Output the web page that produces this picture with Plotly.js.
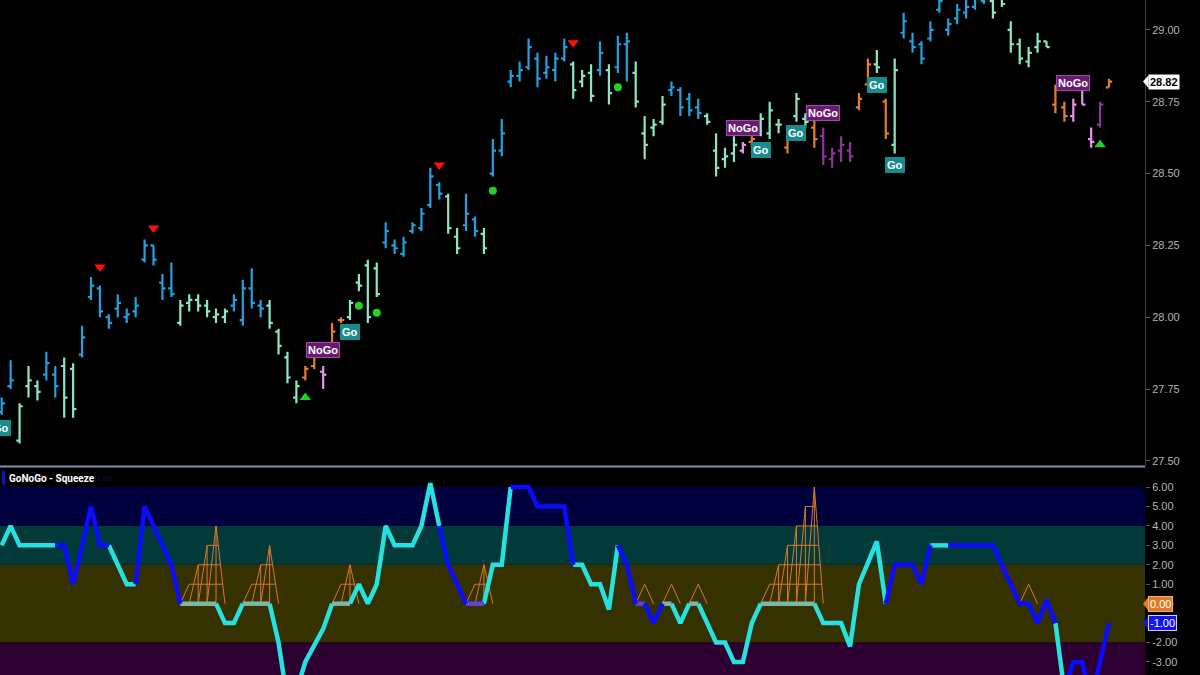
<!DOCTYPE html>
<html><head><meta charset="utf-8">
<script src="https://cdn.plot.ly/plotly-3.0.1.min.js"></script>
<style>html,body{margin:0;padding:0;background:#000;overflow:hidden}#chart{width:1200px;height:675px}</style>
</head><body><div id="chart"></div>
<script>
// ---- price bars (OHLC) ----
const barOpen = [27.67,27.76,27.57,27.76,27.76,27.80,27.80,27.83,27.82,27.87,
28.07,28.10,28.00,28.03,28.00,28.02,28.20,28.25,28.12,28.10,
27.98,28.05,28.06,28.04,28.00,28.00,28.04,27.99,28.10,28.04,
28.04,27.95,27.86,27.72,27.79,27.83,27.81,27.87,27.99,28.00,
28.12,28.18,28.17,28.26,28.25,28.22,28.30,28.31,28.39,28.46,
28.42,28.28,28.32,28.34,28.29,28.50,28.58,28.82,28.84,28.87,
28.90,28.85,28.86,28.90,28.88,28.82,28.85,28.86,28.86,28.87,
28.95,28.85,28.64,28.66,28.68,28.79,28.79,28.76,28.73,28.70,
28.58,28.55,28.57,28.58,28.61,28.65,28.64,28.67,28.59,28.70,
28.69,28.66,28.63,28.55,28.58,28.58,28.73,28.81,28.88,28.75,
28.60,28.99,28.96,28.95,28.97,29.07,29.00,29.04,29.06,29.08,
29.10,29.10,29.11,29.00,28.95,28.89,28.94,28.96,28.74,28.73,
28.70,28.80,28.62,28.67,28.80];
const barHigh = [27.72,27.85,27.70,27.83,27.78,27.88,27.83,27.86,27.84,27.97,
28.14,28.11,28.01,28.08,28.03,28.07,28.27,28.25,28.15,28.19,
28.06,28.08,28.08,28.06,28.03,28.03,28.08,28.13,28.17,28.06,
28.06,27.96,27.88,27.78,27.83,27.91,27.83,27.98,28.00,28.06,
28.15,28.20,28.19,28.33,28.27,28.28,28.33,28.38,28.52,28.47,
28.43,28.31,28.43,28.35,28.31,28.62,28.69,28.86,28.89,28.97,
28.92,28.91,28.92,28.97,28.89,28.86,28.88,28.96,28.88,28.98,
28.99,28.89,28.70,28.69,28.77,28.82,28.80,28.78,28.76,28.71,
28.64,28.59,28.63,28.61,28.63,28.71,28.75,28.69,28.64,28.78,
28.71,28.69,28.66,28.59,28.63,28.61,28.78,28.90,28.93,28.76,
28.90,29.06,28.99,28.96,29.03,29.12,29.04,29.09,29.11,29.13,
29.14,29.12,29.13,29.03,28.97,28.94,28.99,28.96,28.81,28.75,
28.76,28.80,28.66,28.75,28.83];
const barLow = [27.66,27.75,27.56,27.72,27.71,27.78,27.72,27.65,27.65,27.86,
28.06,28.00,27.96,28.00,27.98,28.00,28.19,28.18,28.06,28.07,
27.97,28.02,28.02,28.00,27.98,27.98,28.02,27.97,28.03,28.00,
27.96,27.87,27.77,27.70,27.78,27.82,27.75,27.86,27.98,27.99,
28.09,27.98,28.07,28.24,28.22,28.21,28.29,28.30,28.38,28.41,
28.29,28.22,28.30,28.28,28.22,28.49,28.56,28.80,28.82,28.86,
28.80,28.83,28.82,28.89,28.76,28.80,28.75,28.84,28.74,28.85,
28.82,28.73,28.55,28.63,28.67,28.77,28.70,28.70,28.69,28.67,
28.49,28.52,28.54,28.57,28.59,28.63,28.62,28.64,28.57,28.68,
28.66,28.59,28.53,28.52,28.54,28.54,28.72,28.80,28.85,28.62,
28.57,28.97,28.92,28.88,28.96,29.06,28.98,29.02,29.04,29.07,
29.09,29.04,29.08,28.92,28.88,28.87,28.92,28.94,28.71,28.68,
28.68,28.74,28.59,28.66,28.80];
const barClose = [27.70,27.78,27.69,27.78,27.74,27.84,27.76,27.72,27.68,27.93,
28.11,28.02,27.98,28.05,28.01,28.04,28.25,28.20,28.10,28.08,
28.04,28.06,28.04,28.02,28.01,28.02,28.06,28.10,28.05,28.03,
27.98,27.90,27.79,27.76,27.82,27.88,27.80,27.95,27.99,28.05,
28.11,28.00,28.08,28.30,28.24,28.26,28.32,28.36,28.49,28.43,
28.31,28.24,28.36,28.30,28.24,28.58,28.64,28.84,28.86,28.94,
28.83,28.87,28.90,28.94,28.79,28.84,28.77,28.92,28.78,28.95,
28.96,28.75,28.60,28.67,28.74,28.80,28.73,28.72,28.71,28.68,
28.52,28.56,28.60,28.60,28.62,28.69,28.72,28.67,28.63,28.76,
28.68,28.62,28.56,28.57,28.60,28.56,28.76,28.88,28.87,28.64,
28.86,29.03,28.94,28.90,29.00,29.10,29.02,29.07,29.08,29.11,
29.12,29.06,29.09,28.95,28.90,28.92,28.96,28.94,28.79,28.70,
28.74,28.74,28.61,28.74,28.82];
// trend code per bar: B strong go, G weak go, O weak nogo, P nogo (light), M strong nogo
const barTrend = ("BBGGGBBGGB"+"BBBBBBBBBB"+"GGGGGGBBBB"+"GGGGOOPOOG"+"GGGBBBBBBB"+
  "GGBBGBBBBB"+"BBBBGGGBGB"+"BGGGGBBBBG"+"GGGPOGGGOG"+"GOMMMMOOGO"+
  "GBBBBBBBBB"+"BGGGGGGGOO"+"PPPMO").split("");

// ---- signals on price panel ----
const sellIdx = [11,17,49,64];          const sellPrice = [28.175,28.31,28.53,28.955];
const buyIdx = [34,123];                 const buyPrice = [27.72,28.60];
const dotIdx = [40,42,55,69,100];        const dotPrice = [28.04,28.015,28.44,28.80,28.523];
const redDotIdx = [92];                  const redDotPrice = [28.718];
const goIdx = [0,39,85,89,98,100];       const goPrice = [27.614,27.948,28.582,28.641,28.808,28.530];
const noGoIdx = [36,83,92,120];          const noGoPrice = [27.886,28.659,28.711,28.815];
const lastPrice = 28.82;

// ---- oscillator ----
const oscValue = [3,4,3,3,3,3,3,3,1,3,
 5,3,3,2,1,1,5,4,3,2,
 0,0,0,0,0,-1,-1,0,0,0,
 0,-2,-5,-4.5,-3,-2.2,-1.3,0,0,0,
 1,0,1,4,3,3,3,4,6.2,4,
 2,1,0,0,0,2,2,6,6,6,
 5,5,5,5,2,2,1,1,-0.3,3,
 2,0,0,-1,0,0,-1,0,0,-1,
 -2,-2,-3,-3,-1,0,0,0,0,0,
 0,0,-1,-1,-1,-2.2,1,2.1,3.2,0,
 2,2,2,1,3,3,3,3,3,3,
 3,3,2,1,0,0,-1,0.2,-1,-4.5,
 -3,-3,-5,-3,-1];
const oscState = ("cccccccbbb"+"bbbcccbbbb"+"bggggcccgg"+"gcccccccgg"+"cccccccccc"+
  "bbbppcccbb"+"bbbbbccccc"+"bbpbbgccgc"+"ccccccgggg"+"ggcccccccc"+
  "bbbbbccbbb"+"bbbbbbbbbc"+"bbbbb").split("");
const squeeze = [0,0,0,0,0,0,0,0,0,0,
 0,0,0,0,0,0,0,0,0,0,
 0,1,2,3,4,0,0,0,1,2,
 3,0,0,0,0,0,0,0,1,2,
 0,0,0,0,0,0,0,0,0,0,
 0,0,0,1,2,0,0,0,0,0,
 0,0,0,0,0,0,0,0,0,0,
 0,0,1,0,0,1,0,0,1,0,
 0,0,0,0,0,0,1,2,3,4,
 5,6,0,0,0,0,0,0,0,0,
 0,0,0,0,0,0,0,0,0,0,
 0,0,0,0,0,1,0,0,0,0,
 0,0,0,0,0];
const priceTicks = [27.50,27.75,28.00,28.25,28.50,28.75,29.00];
const oscTicks = [-3,-2,-1,0,1,2,3,4,5,6];

// ================= build =================
const N = barOpen.length;
const FONT = "Liberation Sans, Arial, sans-serif";
const trendColors = {B:'#24a0dc', G:'#8ce6c6', O:'#e47c2e', P:'#e894ea', M:'#93309f'};
const traces = [];
for (const code of Object.keys(trendColors)) {
  const xs=[],o=[],h=[],l=[],c=[];
  for (let i=0;i<N;i++) if (barTrend[i]===code){xs.push(i);o.push(barOpen[i]);h.push(barHigh[i]);l.push(barLow[i]);c.push(barClose[i]);}
  const col = trendColors[code];
  traces.push({type:'ohlc', x:xs, open:o, high:h, low:l, close:c, xaxis:'x', yaxis:'y',
    increasing:{line:{color:col,width:2.2}}, decreasing:{line:{color:col,width:2.2}},
    tickwidth:0.36, hoverinfo:'skip', showlegend:false});
}
function mk(xs,ys,sym,col,size){return {type:'scatter',mode:'markers',x:xs,y:ys,xaxis:'x',yaxis:'y',
  marker:{symbol:sym,color:col,size:size,line:{width:0}},hoverinfo:'skip',showlegend:false};}
traces.push(mk(sellIdx,sellPrice,'triangle-down','#ff1010',10));
traces.push(mk(buyIdx,buyPrice,'triangle-up','#25d025',10));

// squeeze grid
const gx=[],gy=[];
function seg(x0,y0,x1,y1){gx.push(x0,x1,null);gy.push(y0,y1,null);}
for (let i=0;i<N;i++){
  if (squeeze[i]>0){
    const a=i; while(i+1<N && squeeze[i+1]>0) i++; const b=i; const top=squeeze[b];
    for (let j=a;j<=b;j++){ seg(j-1,0,j,squeeze[j]); if (squeeze[j]>=2) seg(j,0,j,squeeze[j]); }
    seg(b,top,b+1,0);
    for (let k=1;k<top;k++){ let s=a; while(squeeze[s]<k) s++; seg(s-1+k/squeeze[s],k,b+1-k/top,k); }
  }
}
traces.push({type:'scatter',mode:'lines',x:gx,y:gy,xaxis:'x',yaxis:'y2',line:{color:'#d9782c',width:1},hoverinfo:'skip',showlegend:false,connectgaps:false});

// oscillator coloured segments
const oscColors = {c:'#25e2e0', g:'#7db8a6', p:'#5a48d8', b:'#0b0bff'};
for (const code of Object.keys(oscColors)){
  const xs=[],ys=[]; let last=-2;
  for (let i=1;i<N;i++){
    if (oscState[i]!==code) continue;
    if (last!==i-1){ if(xs.length){xs.push(null);ys.push(null);} xs.push(i-1); ys.push(oscValue[i-1]); }
    xs.push(i); ys.push(oscValue[i]); last=i;
  }
  traces.push({type:'scatter',mode:'lines',x:xs,y:ys,xaxis:'x',yaxis:'y2',
    line:{color:oscColors[code],width:4.5},hoverinfo:'skip',showlegend:false});
}
// dots over labels
traces.push(mk(dotIdx,dotPrice,'circle','#25d025',8));
traces.push(mk(redDotIdx,redDotPrice,'circle','#ff1a1a',8));

// annotations
const ann = [];
goIdx.forEach((x,k)=>ann.push(Object.assign({x:x,y:goPrice[k],xref:'x',yref:'y',text:'<b>Go</b>',showarrow:false,
  font:{family:FONT,size:11,color:'#ffffff'},bgcolor:'#178c8c',borderpad:2,borderwidth:0},
  k===0?{xanchor:'right',xshift:9}:{})));
noGoIdx.forEach((x,k)=>ann.push({x:x,y:noGoPrice[k],xref:'x',yref:'y',text:'<b>NoGo</b>',showarrow:false,
  font:{family:FONT,size:11,color:'#ffffff'},bgcolor:'#6a1b70',bordercolor:'#a04aa8',borderwidth:1,borderpad:1}));
ann.push({x:1148/1145,xref:'paper',xanchor:'left',y:lastPrice,yref:'y',text:'<b>'+lastPrice.toFixed(2)+'</b>',showarrow:false,
  font:{family:FONT,size:11,color:'#000'},bgcolor:'#ffffff',borderpad:1});
ann.push({x:1148/1145,xref:'paper',xanchor:'left',y:0,yref:'y2',text:'0.00',showarrow:false,
  font:{family:FONT,size:11,color:'#ffffff'},bgcolor:'#e07a22',bordercolor:'#f0b080',borderwidth:1,borderpad:1});
ann.push({x:1148/1145,xref:'paper',xanchor:'left',y:oscValue[N-1],yref:'y2',text:oscValue[N-1].toFixed(2),showarrow:false,
  font:{family:FONT,size:11,color:'#ffffff'},bgcolor:'#1414f0',bordercolor:'#d0d0ff',borderwidth:1,borderpad:1});
ann.push({x:7/1145,xref:'paper',xanchor:'left',y:1-478/675,yref:'paper',yanchor:'middle',text:'<b>GoNoGo - Squeeze</b>',showarrow:false,
  font:{family:'Roboto, '+FONT,size:10,color:'#ffffff'}});
ann.push({x:92/1145,xref:'paper',xanchor:'left',y:1-478/675,yref:'paper',yanchor:'middle',text:oscValue[N-1].toFixed(2),showarrow:false,
  font:{family:FONT,size:8,color:'#101040'}});

const shapes = [
  {type:'rect',xref:'x',yref:'y2',x0:-5,x1:140,y0:4,y1:6,fillcolor:'#00003e',line:{width:0},layer:'below'},
  {type:'rect',xref:'x',yref:'y2',x0:-5,x1:140,y0:2,y1:4,fillcolor:'#023a3a',line:{width:0},layer:'below'},
  {type:'rect',xref:'x',yref:'y2',x0:-5,x1:140,y0:-2,y1:2,fillcolor:'#363100',line:{width:0},layer:'below'},
  {type:'rect',xref:'x',yref:'y2',x0:-5,x1:140,y0:-10,y1:-2,fillcolor:'#2e0032',line:{width:0},layer:'below'},
  {type:'line',xref:'paper',yref:'y2',x0:0,x1:1,y0:0,y1:0,line:{color:'#e07a22',width:1.5},layer:'below'},
  {type:'line',xref:'paper',yref:'paper',x0:0,x1:1,y0:1-466.5/675,y1:1-466.5/675,line:{color:'#8090a8',width:2}},
  {type:'rect',xref:'paper',yref:'paper',x0:2/1145,x1:5/1145,y0:1-485/675,y1:1-471/675,fillcolor:'#1010d0',line:{width:0}},
  {type:'path',xref:'paper',yref:'y',path:`M ${1143/1145} ${lastPrice} L ${1148.5/1145} ${lastPrice+0.022} L ${1148.5/1145} ${lastPrice-0.022} Z`,fillcolor:'#ffffff',line:{width:0}},
  {type:'path',xref:'paper',yref:'y2',path:`M ${1143/1145} 0 L ${1148.5/1145} 0.36 L ${1148.5/1145} -0.36 Z`,fillcolor:'#e07a22',line:{width:0}},
  {type:'path',xref:'paper',yref:'y2',path:`M ${1143/1145} -1 L ${1148.5/1145} -0.64 L ${1148.5/1145} -1.36 Z`,fillcolor:'#1414f0',line:{width:0}}
];

const layout = {
  width:1200, height:675, paper_bgcolor:'#000', plot_bgcolor:'#000',
  margin:{l:0,r:55,t:0,b:0,pad:0}, showlegend:false, hovermode:false,
  xaxis:{range:[-0.19,128.03],visible:false,rangeslider:{visible:false},fixedrange:true},
  yaxis:{domain:[1-466/675,1],range:[27.482,29.104],side:'right',tickvals:priceTicks,
    ticktext:priceTicks.map(v=>v.toFixed(2)),showgrid:false,zeroline:false,showline:true,linecolor:'#3c3c3c',linewidth:1,
    ticks:'outside',ticklen:4,tickcolor:'#555',tickfont:{family:FONT,size:11,color:'#b4b4b4'},fixedrange:true},
  yaxis2:{domain:[0,1-468/675],range:[-3.67,6.98],side:'right',tickvals:oscTicks,
    ticktext:oscTicks.map(v=>v.toFixed(2)),showgrid:false,zeroline:false,showline:false,
    ticks:'outside',ticklen:4,tickcolor:'#555',tickfont:{family:FONT,size:11,color:'#b4b4b4'},fixedrange:true},
  shapes:shapes, annotations:ann
};
Plotly.newPlot('chart',traces,layout,{staticPlot:true,displayModeBar:false});
</script></body></html>
